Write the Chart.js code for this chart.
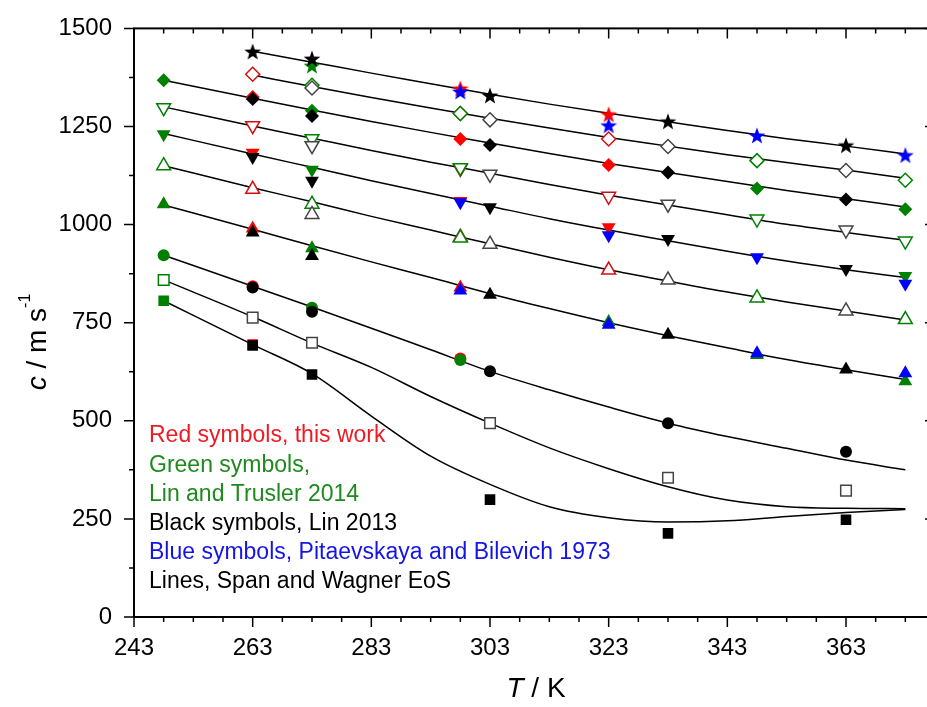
<!DOCTYPE html>
<html>
<head>
<meta charset="utf-8">
<script src="https://cdn.jsdelivr.net/npm/chart.js@4.4.1/dist/chart.umd.min.js"></script>
<style>
  html, body { margin: 0; padding: 0; background: #fff; overflow: hidden; }
  #wrap { width: 945px; height: 707px; }
</style>
</head>
<body>
<div id="wrap"><canvas id="myChart" width="945" height="707"></canvas></div>
<script>
// rows = isobars, top to bottom:
// star, open diamond, diamond, open down tri, down tri, open up tri, up tri, circle, open square, square
const xTicks = [243, 263, 283, 303, 323, 343, 363];
const yTicks = [0, 250, 500, 750, 1000, 1250, 1500];

// Span and Wagner EoS lines
const eosT = [248, 263, 273, 283, 293, 303, 313, 323, 333, 343, 353, 363, 373];
const eosC = [
  [null, 1442, 1414, 1386, 1359, 1332, 1307, 1284, 1262, 1240, 1219, 1200, 1180],
  [null, 1381, 1352, 1324, 1297, 1271, 1246, 1222, 1200, 1178, 1158, 1139, 1118],
  [1368, 1322, 1292, 1263, 1235, 1208, 1181, 1156, 1133, 1110, 1087, 1066, 1045],
  [1300, 1251, 1220, 1189, 1159, 1131, 1102, 1075, 1050, 1025, 1001, 980, 960],
  [1232, 1180, 1146, 1112, 1079, 1047, 1015, 986, 959, 932, 907, 885, 865],
  [1150, 1094, 1058, 1021, 986, 951, 917, 885, 856, 828, 803, 780, 757],
  [1050, 988, 946, 905, 865, 824, 786, 750, 717, 686, 656, 630, 605],
  [922, 843, 790, 736, 681, 626, 579, 535, 494, 460, 430, 400, 375],
  [859, 765, 698, 636, 562, 494, 431, 378, 332, 298, 281, 277, 276],
  [806, 694, 620, 512, 410, 338, 281, 253, 242, 245, 256, 266, 274]
];

// red: this work
const redT = [263, 298, 323];
const redC = [
  [null, 1346, 1280],
  [1383, 1283, 1218],
  [1325, 1218, 1152],
  [1252, 1143, 1072],
  [1183, 1060, 993],
  [1090, 968, 884],
  [990, 840, null],
  [843, 659, null],
  [null, null, null],
  [694, null, null]
];

// green: Lin and Trusler 2014
const greenT = [248, 273, 298, 323, 348, 373];
const greenC = [
  [null, 1404, null, null, null, null],
  [null, 1355, 1283, null, 1163, 1113],
  [1368, 1290, null, null, 1092, 1039],
  [1298, 1219, 1145, null, 1014, 958],
  [1230, 1140, null, null, null, 869],
  [1150, 1052, 966, null, 813, 758],
  [1052, 940, null, 752, 668, 601],
  [922, 788, 655, null, null, null],
  [859, null, null, null, null, null],
  [806, null, null, null, null, null]
];

// black: Lin 2013
const blackT = [263, 273, 303, 333, 363];
const blackC = [
  [1440, 1422, 1328, 1262, 1201],
  [null, 1348, 1267, 1199, 1138],
  [1320, 1277, 1203, 1133, 1064],
  [null, 1201, 1128, 1052, 986],
  [1172, 1112, 1044, 963, 887],
  [null, 1026, 950, 859, 780],
  [980, 920, 821, 719, 631],
  [840, 778, 626, 494, 421],
  [763, 699, 494, 355, 322],
  [692, 618, 299, 213, 248]
];

// blue: Pitaevskaya and Bilevich 1973
const blueT = [298, 323, 348, 373];
const blueC = [
  [1338, 1252, 1226, 1176],
  [null, null, null, null],
  [null, null, null, null],
  [null, null, null, null],
  [1057, 973, 917, 849],
  [null, null, null, null],
  [832, 745, 672, 621],
  [null, null, null, null],
  [null, null, null, null],
  [null, null, null, null]
];

const noteLines = [
  ['Red symbols, this work', '#ed1c24'],
  ['Green symbols,', '#1e8a1e'],
  ['Lin and Trusler 2014', '#1e8a1e'],
  ['Black symbols, Lin 2013', '#000'],
  ['Blue symbols, Pitaevskaya and Bilevich 1973', '#1414e6'],
  ['Lines, Span and Wagner EoS', '#000']
];

const FONT = "'Liberation Sans', Arial, sans-serif";
Chart.defaults.color = '#000';
Chart.defaults.font.family = FONT;

const shapes = ['star', 'rectRot', 'rectRot', 'triangle', 'triangle', 'triangle', 'triangle', 'circle', 'rect', 'rect'];
const filled = [true, false, true, false, true, false, true, true, false, true];
const rots = [0, 0, 0, 180, 180, 0, 0, 0, 0, 0];
const radii = [8, 7, 7, 8, 8, 8, 8, 6, 7.5, 7.5];

function makeStar(color) {
  let c = document.createElement('canvas');
  c.width = 18; c.height = 18;
  let g = c.getContext('2d');
  g.fillStyle = color;
  g.beginPath();
  for (let i = 0; i < 10; i++) {
    let r = i % 2 === 0 ? 8.8 : 3.6;
    let a = -Math.PI / 2 + i * Math.PI / 5;
    let px = 9 + r * Math.cos(a), py = 9.4 + r * Math.sin(a);
    if (i === 0) g.moveTo(px, py); else g.lineTo(px, py);
  }
  g.closePath();
  g.fill();
  return c;
}

function toPts(ts, row) {
  let pts = [];
  ts.forEach((t, i) => { if (row[i] !== null) pts.push({ x: t, y: row[i] }); });
  return pts;
}

let datasets = [];
eosC.forEach((row) => {
  datasets.push({
    data: toPts(eosT, row),
    showLine: true,
    borderColor: '#000',
    borderWidth: 1.5,
    pointRadius: 0,
    cubicInterpolationMode: 'monotone',
    order: 10
  });
});

function addSource(ts, rows, color, edge, order) {
  rows.forEach((row, k) => {
    let pts = toPts(ts, row);
    if (!pts.length) return;
    let style = shapes[k] === 'star' ? makeStar(color) : shapes[k];
    datasets.push({
      data: pts,
      showLine: false,
      pointStyle: style,
      pointRadius: radii[k],
      pointRotation: rots[k],
      backgroundColor: filled[k] ? color : '#fff',
      borderColor: filled[k] ? color : edge,
      borderWidth: filled[k] ? 0 : 1.5,
      order: order
    });
  });
}
addSource(redT, redC, '#ff0000', '#d01010', 4);
addSource(greenT, greenC, '#008000', '#008000', 3);
addSource(blackT, blackC, '#000000', '#444444', 2);
addSource(blueT, blueC, '#0000ff', '#0000ff', 1);

const framePlugin = {
  id: 'frame',
  afterDraw(chart) {
    const ctx = chart.ctx;
    const a = chart.chartArea;
    const xs = chart.scales.x, ys = chart.scales.y;
    ctx.save();
    ctx.strokeStyle = '#000';
    ctx.lineWidth = 2;
    ctx.strokeRect(a.left, a.top, a.right - a.left, a.bottom - a.top);
    ctx.lineWidth = 1.5;
    ctx.beginPath();
    for (let t = 243; t <= 378; t += 5) {
      let px = xs.getPixelForValue(t);
      let len = (t - 243) % 20 === 0 ? 10 : 5;
      ctx.moveTo(px, a.bottom); ctx.lineTo(px, a.bottom + len);
      ctx.moveTo(px, a.top); ctx.lineTo(px, a.top + len);
    }
    for (let v = 0; v <= 1500; v += 125) {
      let py = ys.getPixelForValue(v);
      let len = v % 250 === 0 ? 10 : 5;
      ctx.moveTo(a.left, py); ctx.lineTo(a.left - len, py);
      ctx.moveTo(a.right, py); ctx.lineTo(a.right - len, py);
    }
    ctx.stroke();

    // notes
    ctx.font = '23px ' + FONT;
    ctx.textBaseline = 'middle';
    ctx.textAlign = 'left';
    noteLines.forEach((ln, i) => {
      ctx.fillStyle = ln[1];
      ctx.fillText(ln[0], 149, 436 + i * 29.2);
    });

    // x title
    ctx.fillStyle = '#000';
    ctx.font = 'italic 28px ' + FONT;
    let w1 = ctx.measureText('T').width;
    ctx.font = '28px ' + FONT;
    let w2 = ctx.measureText(' / K').width;
    let x0 = 536 - (w1 + w2) / 2;
    ctx.font = 'italic 28px ' + FONT;
    ctx.fillText('T', x0, 689);
    ctx.font = '28px ' + FONT;
    ctx.fillText(' / K', x0 + w1, 689);

    // y title
    ctx.translate(38, 342);
    ctx.rotate(-Math.PI / 2);
    ctx.font = 'italic 28px ' + FONT;
    let c1 = ctx.measureText('c').width;
    ctx.font = '28px ' + FONT;
    let c2 = ctx.measureText(' / m s').width;
    ctx.font = '16px ' + FONT;
    let c3 = ctx.measureText('-1').width;
    let s = -(c1 + c2 + c3) / 2;
    ctx.font = 'italic 28px ' + FONT;
    ctx.fillText('c', s, 0);
    ctx.font = '28px ' + FONT;
    ctx.fillText(' / m s', s + c1, 0);
    ctx.font = '16px ' + FONT;
    ctx.fillText('-1', s + c1 + c2, -12);
    ctx.restore();
  }
};

new Chart(document.getElementById('myChart'), {
  type: 'scatter',
  data: { datasets: datasets },
  options: {
    responsive: false,
    animation: false,
    layout: { padding: { top: 27, right: 10, left: 0, bottom: 0 } },
    plugins: { legend: { display: false }, tooltip: { enabled: false } },
    scales: {
      x: {
        type: 'linear',
        min: 243,
        max: 378,
        grid: { display: false },
        border: { display: false },
        afterBuildTicks: (axis) => { axis.ticks = xTicks.map(v => ({ value: v })); },
        afterFit: (axis) => { axis.height = 90; },
        ticks: { font: { size: 24 }, padding: 9, maxRotation: 0, autoSkip: false, callback: (v) => String(v) }
      },
      y: {
        min: 0,
        max: 1500,
        grid: { display: false },
        border: { display: false },
        afterBuildTicks: (axis) => { axis.ticks = yTicks.map(v => ({ value: v })); },
        afterFit: (axis) => { axis.width = 134; },
        ticks: { font: { size: 24 }, padding: 14, callback: (v) => String(v) }
      }
    }
  },
  plugins: [framePlugin]
});
</script>
</body>
</html>
